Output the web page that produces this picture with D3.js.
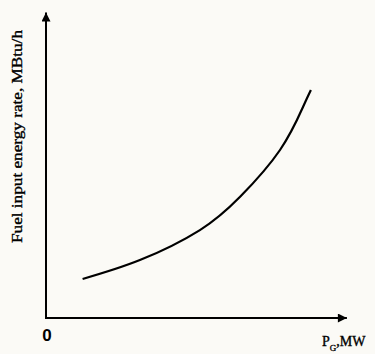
<!DOCTYPE html>
<html>
<head>
<meta charset="utf-8">
<script src="https://cdn.jsdelivr.net/npm/d3@7"></script>
<style>
  html, body { margin: 0; padding: 0; background: #fbfaf6; }
  svg { display: block; }
</style>
</head>
<body>
<div id="chart"></div>
<script>
// curve (arbitrary units, 0..100 on both axes)
const pg = [12.2, 31.3, 51.3, 64.7, 78.0, 85.7, 88.3];
const fuel = [13.0, 19.3, 29.3, 40.4, 56.0, 70.4, 76.0];
const yLabel = 'Fuel input energy rate, MBtu/h';
const originLabel = '0';

const width = 375, height = 354;

const x = d3.scaleLinear().domain([0, 100]).range([46, 346]);
const y = d3.scaleLinear().domain([0, 100]).range([318, 18]);

const svg = d3.select('#chart')
  .append('svg')
  .attr('width', width)
  .attr('height', height);

// arrow heads
const defs = svg.append('defs');
defs.append('marker')
  .attr('id', 'arrow')
  .attr('viewBox', '0 0 10 10')
  .attr('refX', 10)
  .attr('refY', 5)
  .attr('markerUnits', 'userSpaceOnUse')
  .attr('markerWidth', 11)
  .attr('markerHeight', 9)
  .attr('orient', 'auto')
  .append('path')
  .attr('d', 'M0,0 L10,5 L0,10 Z')
  .attr('fill', '#000');

// axes
svg.append('line')
  .attr('x1', x(0)).attr('y1', y(0))
  .attr('x2', x(0)).attr('y2', y(101.8))
  .attr('stroke', '#000').attr('stroke-width', 2)
  .attr('marker-end', 'url(#arrow)');

svg.append('line')
  .attr('x1', x(0) - 1).attr('y1', y(0))
  .attr('x2', x(100.3)).attr('y2', y(0))
  .attr('stroke', '#000').attr('stroke-width', 2)
  .attr('marker-end', 'url(#arrow)');

// curve
const line = d3.line()
  .x((d, i) => x(pg[i]))
  .y(d => y(d))
  .curve(d3.curveNatural);

svg.append('path')
  .datum(fuel)
  .attr('d', line)
  .attr('fill', 'none')
  .attr('stroke', '#000')
  .attr('stroke-width', 2.2);

// labels
svg.append('text')
  .attr('x', x(0) + 1)
  .attr('y', y(0) + 23)
  .attr('text-anchor', 'middle')
  .style('font-family', 'Liberation Sans, Arial, sans-serif')
  .style('font-weight', 'bold')
  .style('font-size', '17px')
  .text(originLabel);

const xl = svg.append('text')
  .attr('x', 322)
  .attr('y', 346)
  .attr('stroke', '#000')
  .attr('stroke-width', 0.35)
  .style('font-family', 'Liberation Serif, Times New Roman, serif')
  .style('font-size', '14px');
xl.append('tspan').text('P');
xl.append('tspan').attr('dy', 5).style('font-size', '9px').text('G');
xl.append('tspan').attr('dy', -5).text(',MW');

svg.append('text')
  .attr('transform', `translate(21.5, ${(30 + 243) / 2}) rotate(-90)`)
  .attr('text-anchor', 'middle')
  .attr('textLength', 213)
  .attr('lengthAdjust', 'spacingAndGlyphs')
  .attr('stroke', '#000')
  .attr('stroke-width', 0.35)
  .style('font-family', 'Liberation Serif, Times New Roman, serif')
  .style('font-size', '14px')
  .text(yLabel);
</script>
</body>
</html>
